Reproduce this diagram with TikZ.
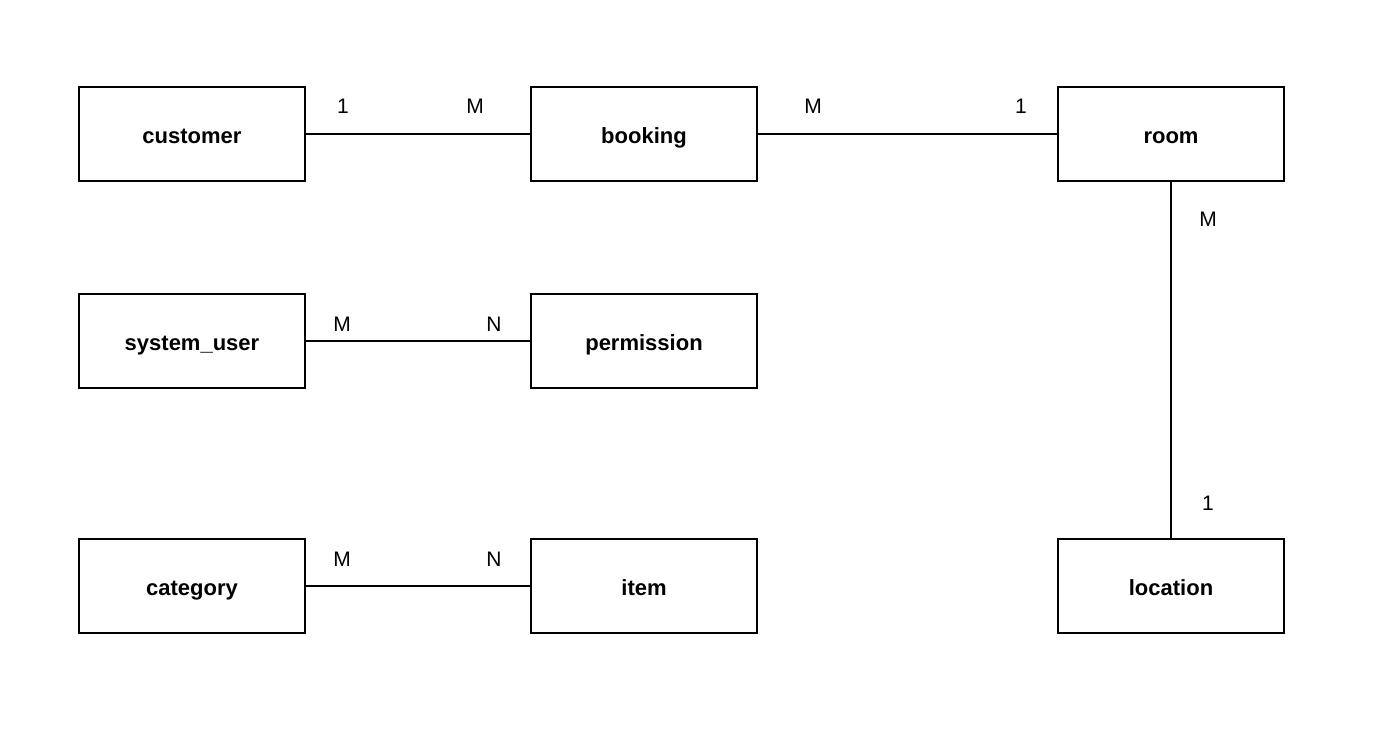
\documentclass[tikz,border=0pt]{standalone}
\usepackage{fontspec}
\setmainfont{Liberation Sans}
\begin{document}
\begin{tikzpicture}[x=1pt,y=-1pt,
  entity/.style={draw=black,line width=2pt,fill=white,minimum width=226pt,minimum height=94pt,inner sep=0pt,text height=18pt,text depth=0pt,font=\fontsize{22}{26}\selectfont\bfseries},
  rel/.style={line width=2pt},
  card/.style={font=\fontsize{21}{25}\selectfont,inner sep=0pt}]
\useasboundingbox[fill=white] (0,0) rectangle (1392,750);
\node[entity] (customer) at (192,134) {customer};
\node[entity] (booking) at (644,134) {booking};
\node[entity] (room) at (1171,134) {room};
\node[entity] (sysuser) at (192,341) {system\_user};
\node[entity] (permission) at (644,341) {permission};
\node[entity] (category) at (192,586) {category};
\node[entity] (item) at (644,586) {item};
\node[entity] (location) at (1171,586) {location};
\draw[rel] (customer) -- (booking);
\draw[rel] (booking) -- (room);
\draw[rel] (room) -- (location);
\draw[rel] (sysuser) -- (permission);
\draw[rel] (category) -- (item);
\node[card] (c1) at (343,106) {1};
\node[card] (c2) at (475,106) {M};
\node[card] (c3) at (813,106) {M};
\node[card] (c4) at (1021,106) {1};
\node[card] (c5) at (1208,219) {M};
\node[card] (c6) at (1208,503) {1};
\node[card] (c7) at (342,324) {M};
\node[card] (c8) at (494,324) {N};
\node[card] (c9) at (342,559) {M};
\node[card] (c10) at (494,559) {N};
\end{tikzpicture}
\end{document}
